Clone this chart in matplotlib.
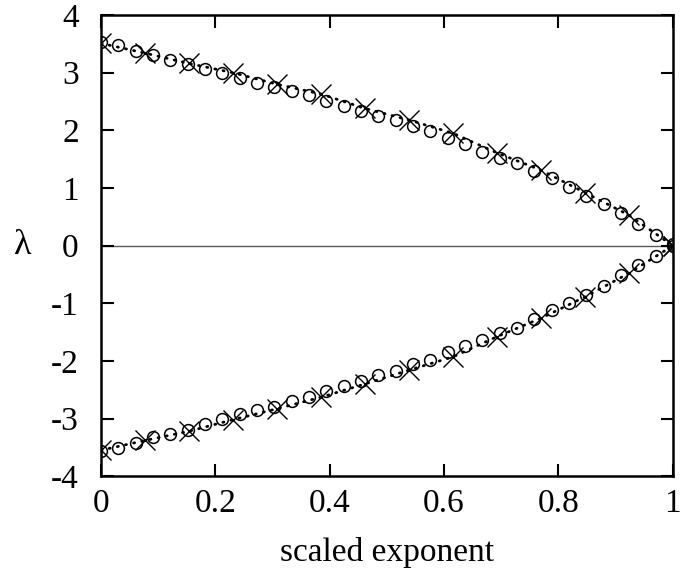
import numpy as np
import matplotlib
matplotlib.use("Agg")
import matplotlib.pyplot as plt

# Circle series (34 points, evenly spaced in scaled exponent)
circle_x = [i / 33 for i in range(34)]
circle_upper = [3.53, 3.48, 3.37, 3.31, 3.22, 3.15, 3.06, 2.99, 2.90, 2.82,
                2.76, 2.69, 2.61, 2.51, 2.42, 2.34, 2.25, 2.18, 2.08, 1.99,
                1.86, 1.76, 1.63, 1.52, 1.43, 1.29, 1.17, 1.02, 0.86, 0.73,
                0.57, 0.37, 0.18, 0.02]
circle_lower = [-3.56, -3.51, -3.42, -3.32, -3.26, -3.20, -3.10, -3.00, -2.92, -2.86,
                -2.80, -2.70, -2.63, -2.53, -2.43, -2.34, -2.24, -2.18, -2.06, -1.99,
                -1.85, -1.74, -1.64, -1.51, -1.43, -1.28, -1.12, -1.00, -0.86, -0.70,
                -0.51, -0.34, -0.18, 0.00]

# Cross series (14 points)
cross_x = [i / 13 for i in range(14)]
cross_upper = [3.51, 3.34, 3.16, 3.00, 2.80, 2.63, 2.38, 2.18, 1.95, 1.61, 1.31, 0.92, 0.53, 0.0]
cross_lower = [-3.55, -3.38, -3.22, -3.02, -2.83, -2.63, -2.40, -2.16, -1.93, -1.58, -1.26, -0.89, -0.48, 0.0]

x_ticks = [0, 0.2, 0.4, 0.6, 0.8, 1]
x_tick_labels = ["0", "0.2", "0.4", "0.6", "0.8", "1"]
y_ticks = [-4, -3, -2, -1, 0, 1, 2, 3, 4]
y_tick_labels = ["-4", "-3", "-2", "-1", "0", "1", "2", "3", "4"]

plt.rcParams['font.family'] = ['Liberation Serif', 'DejaVu Serif']

fig = plt.figure(figsize=(6.84, 5.80), dpi=100)
ax = fig.add_axes([0.1477, 0.179, 0.836, 0.795])

ax.axhline(0, color='0.35', lw=1.0, zorder=1)

for ys in (cross_upper, cross_lower):
    ax.plot(cross_x, ys, color='black', lw=2.0, linestyle=(0, (0.4, 2.6)),
            dash_capstyle='round', zorder=2)
    ax.plot(cross_x, ys, linestyle='none', marker='x', markersize=15,
            markeredgewidth=1.0, color='black', zorder=3)

for ys in (circle_upper, circle_lower):
    ax.plot(circle_x, ys, linestyle='none', marker='o', markersize=8.5,
            markerfacecolor='none', markeredgecolor='black', markeredgewidth=1.1,
            zorder=3)

ax.set_xlim(0, 1)
ax.set_ylim(-4, 4)
ax.set_xticks(x_ticks)
ax.set_xticklabels(x_tick_labels)
ax.set_yticks(y_ticks)
ax.set_yticklabels(y_tick_labels)
ax.tick_params(direction='in', length=9, width=1.5, top=True, right=True,
               labelsize=24)
ax.tick_params(axis='y', pad=16)
ax.tick_params(axis='x', pad=9)
for s in ax.spines.values():
    s.set_linewidth(1.8)

ax.set_xlabel("scaled exponent", fontsize=24, labelpad=13)
fig.text(0.033, 0.577, "λ", fontsize=26, ha='center', va='center')

fig.savefig("out.png", dpi=100)
